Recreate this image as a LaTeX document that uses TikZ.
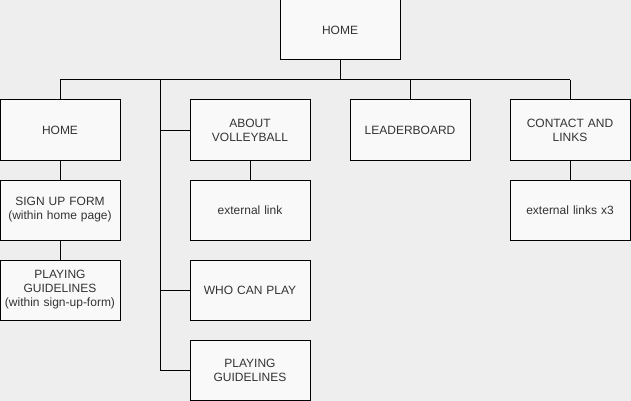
\documentclass[tikz,border=0pt]{standalone}
\usepackage{fontspec}
\setmainfont{Liberation Sans}
\definecolor{bgc}{RGB}{238,238,238}
\definecolor{boxc}{RGB}{249,249,249}
\definecolor{txtc}{RGB}{51,51,51}
\begin{document}
\begin{tikzpicture}[x=1pt,y=-1pt,
  pagebox/.style={draw=black,line width=1pt,fill=boxc,minimum width=120pt,minimum height=60pt,
    inner sep=0pt,text width=120pt,align=center,text=txtc,font=\fontsize{12}{14}\selectfont},
  link/.style={draw=black,line width=1pt}]
\fill[bgc] (0,0) rectangle (631,401);
\useasboundingbox (0,0) rectangle (631,401);
\node[pagebox] (top) at (340,30) {HOME};
\node[pagebox] (home) at (60,130) {HOME};
\node[pagebox] (about) at (250,130) {ABOUT\\VOLLEYBALL};
\node[pagebox] (lead) at (410,130) {LEADERBOARD};
\node[pagebox] (contact) at (570,130) {CONTACT AND\\LINKS};
\node[pagebox] (signup) at (60,210) {SIGN UP FORM\\(within home page)};
\node[pagebox] (pg1) at (60,290) {PLAYING\\GUIDELINES\\(within sign-up-form)};
\node[pagebox] (ext) at (250,210) {external link};
\node[pagebox] (who) at (250,290) {WHO CAN PLAY};
\node[pagebox] (pg2) at (250,370) {PLAYING\\GUIDELINES};
\node[pagebox] (ext3) at (570,210) {external links x3};
\coordinate (busL) at (60,80);
\coordinate (busR) at (570,80);
\coordinate (spine) at (160,80);
\coordinate (spineEnd) at (160,370);
\draw[link] (busL) -- (busR);
\draw[link] (top.south) -- (top.south |- busL);
\draw[link] (busL) -- (home.north);
\draw[link] (busR) -- (contact.north);
\draw[link] (lead.north) -- (lead.north |- busL);
\draw[link] (spine) -- (spineEnd) -- (pg2.west);
\draw[link] (about.west) -- (about.west -| spine);
\draw[link] (who.west) -- (who.west -| spine);
\draw[link] (home) -- (signup);
\draw[link] (signup) -- (pg1);
\draw[link] (about) -- (ext);
\draw[link] (contact) -- (ext3);
\end{tikzpicture}
\end{document}
